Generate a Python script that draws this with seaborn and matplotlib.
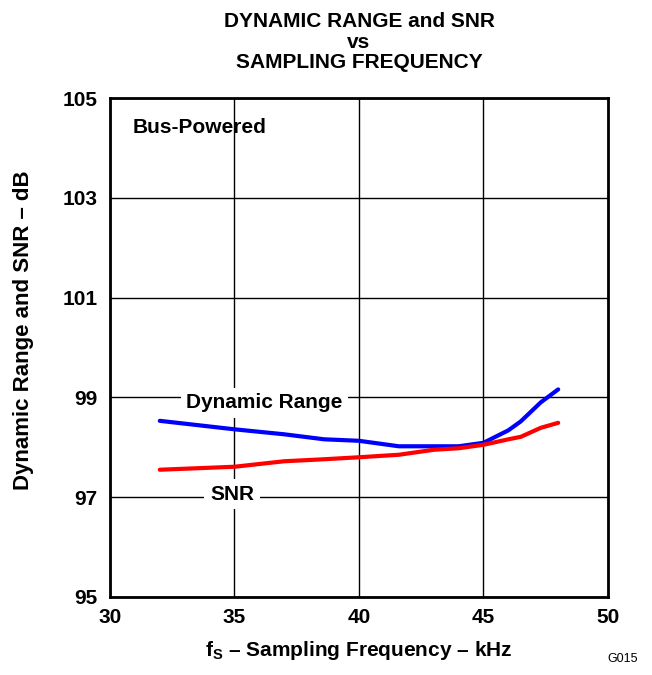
import numpy as np
import pandas as pd
import matplotlib
matplotlib.use("Agg")
import matplotlib.pyplot as plt
import seaborn as sns

# sampling frequency (kHz) and measured curves (dB)
fs = [32, 35, 37, 38.6, 40, 41.6, 43, 44, 45, 46, 46.5, 47.3, 48]
dyn_range = [98.53, 98.36, 98.26, 98.16, 98.13, 98.02, 98.02, 98.02, 98.09, 98.34, 98.52, 98.90, 99.16]
snr = [97.55, 97.61, 97.72, 97.76, 97.80, 97.85, 97.95, 97.98, 98.05, 98.16, 98.21, 98.39, 98.49]

x_ticks = [30, 35, 40, 45, 50]
y_ticks = [95, 97, 99, 101, 103, 105]

df = pd.DataFrame({
    "fs": fs * 2,
    "db": dyn_range + snr,
    "curve": ["Dynamic Range"] * len(fs) + ["SNR"] * len(fs),
})

sns.set_style("white")
plt.rcParams['font.family'] = ['Liberation Sans', 'DejaVu Sans']
plt.rcParams['text.color'] = 'black'
plt.rcParams['axes.labelcolor'] = 'black'
plt.rcParams['xtick.color'] = 'black'
plt.rcParams['ytick.color'] = 'black'
plt.rcParams['mathtext.fontset'] = 'custom'
plt.rcParams['mathtext.rm'] = 'Liberation Sans:bold'
plt.rcParams['mathtext.it'] = 'Liberation Sans:bold'
plt.rcParams['mathtext.bf'] = 'Liberation Sans:bold'

fig = plt.figure(figsize=(6.52, 6.75), dpi=100)
ax = fig.add_axes([0.1687, 0.1156, 0.9325 - 0.1687, 0.8548 - 0.1156])

sns.lineplot(data=df, x="fs", y="db", hue="curve",
             palette={"Dynamic Range": "#0000ff", "SNR": "#ff0000"},
             linewidth=3, legend=False, ax=ax, zorder=3)

ax.set_xlim(30, 50)
ax.set_ylim(95, 105)
ax.set_xticks(x_ticks)
ax.set_yticks(y_ticks)
ax.grid(True, color="black", linewidth=1)
ax.set_axisbelow(True)
for s in ax.spines.values():
    s.set_color("black")
    s.set_linewidth(2)
ax.tick_params(axis="x", length=0, labelsize=15, pad=8)
ax.tick_params(axis="y", length=0, labelsize=15, pad=9)
for lbl in ax.get_xticklabels() + ax.get_yticklabels():
    lbl.set_fontweight("bold")

ax.set_xlabel(r"f$_\mathrm{S}$ – Sampling Frequency – kHz", fontsize=15, fontweight="bold")
ax.set_ylabel("Dynamic Range and SNR – dB", fontsize=16, fontweight="bold")
ax.xaxis.set_label_coords(0.5, -0.084)
ax.yaxis.set_label_coords(-0.153, 0.535)

ax.text(0.5, 1 + 56 / 499, "DYNAMIC RANGE and SNR\nvs\nSAMPLING FREQUENCY", transform=ax.transAxes,
        fontsize=15, fontweight="bold", ha="center", va="center", linespacing=1.12)

box = dict(facecolor="white", edgecolor="none", pad=4)
ax.text(36.2, 98.89, "Dynamic Range", fontsize=15, fontweight="bold", ha="center", va="center", bbox=box, zorder=4)
ax.text(34.9, 97.06, "SNR", fontsize=15, fontweight="bold", ha="center", va="center", bbox=box, zorder=4)
ax.text(30.9, 104.4, "Bus-Powered", fontsize=15, fontweight="bold", ha="left", va="center", zorder=4)

fig.text(0.978, 0.015, "G015", fontsize=9, ha="right", va="bottom")

fig.savefig("out.png", dpi=100)
